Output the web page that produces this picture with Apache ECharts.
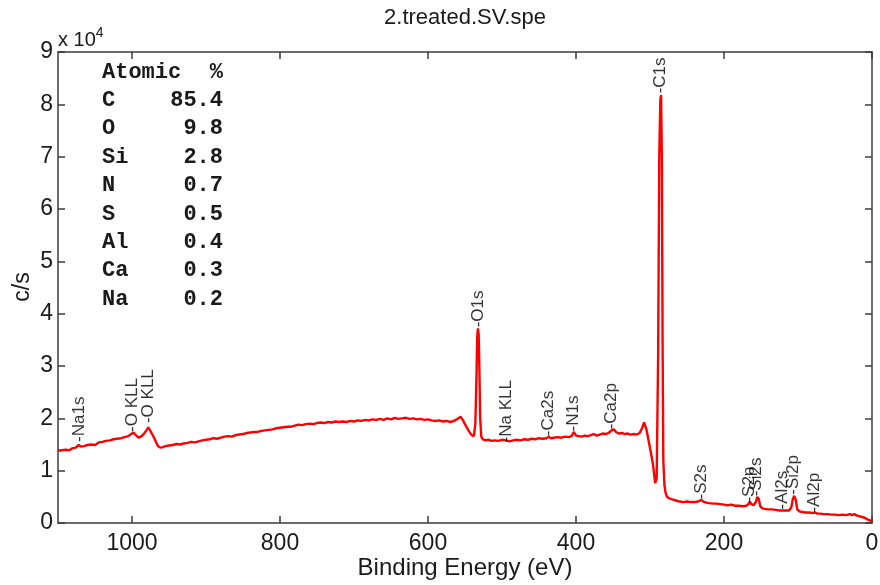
<!DOCTYPE html>
<html>
<head>
<meta charset="utf-8">
<script src="https://cdn.jsdelivr.net/npm/echarts@6/dist/echarts.min.js"></script>
<style>
  html, body { margin: 0; padding: 0; background: #fff; }
  #chart { width: 880px; height: 585px; }
</style>
</head>
<body>
<div id="chart"></div>
<script>
// XPS survey spectrum: binding energy (eV) and intensity (c/s)
const bindingEnergy = [
  1100, 1095, 1090, 1085, 1080, 1076, 1072, 1069, 1065, 1060, 1055, 1050, 1045, 1040, 1035, 1030,
  1025, 1020, 1015, 1010, 1005, 1001, 998, 995, 991, 987, 983, 980, 978, 976, 972, 968,
  965, 962, 958, 955, 950, 945, 940, 935, 930, 925, 920, 915, 910, 905, 900, 895,
  890, 885, 880, 875, 870, 865, 860, 855, 850, 845, 840, 835, 830, 825, 820, 815,
  810, 805, 800, 795, 790, 785, 780, 775, 770, 765, 760, 755, 750, 745, 740, 735,
  730, 725, 720, 715, 710, 705, 700, 695, 690, 685, 680, 675, 670, 665, 660, 655,
  650, 645, 640, 635, 630, 625, 620, 615, 610, 605, 600, 595, 590, 585, 580, 575,
  570, 565, 560, 556, 553, 549, 545, 541, 538, 536, 534.5, 533.5, 532.5, 531.5, 530.5, 529.5,
  528, 526, 522, 518, 514, 510, 505, 500, 495, 490, 485, 480, 475, 470, 465, 460,
  455, 450, 445, 440, 437, 434, 430, 425, 420, 415, 410, 406, 403, 400, 396, 392,
  388, 384, 380, 376, 372, 368, 364, 360, 356, 352, 349, 346, 342, 338, 334, 330,
  326, 322, 318, 314, 311, 308, 305, 302, 299, 296, 293, 291, 289, 287.5, 286, 285,
  284, 283, 282, 280.5, 279, 277, 274, 270, 265, 260, 255, 250, 245, 240, 235, 231,
  228, 224, 220, 215, 210, 205, 200, 195, 190, 185, 180, 175, 170, 167, 165, 163,
  160, 157, 155, 153, 151, 148, 145, 140, 135, 130, 125, 121, 119, 116, 112, 109,
  107, 105, 103, 101, 98, 94, 90, 85, 80, 77, 74, 70, 65, 60, 55, 50,
  45, 40, 35, 30, 27, 24, 20, 15, 10, 6, 3, 0
];
const countsPerSecond = [
  13800, 13900, 14000, 13900, 14300, 14400, 14900, 14600, 14700, 14900, 15000, 14900, 15400, 15500, 15700, 15800,
  16000, 16100, 16200, 16400, 16600, 17000, 17300, 16800, 16300, 16600, 17200, 17800, 18300, 18000, 16800, 15600,
  14700, 14400, 14500, 14700, 14800, 14900, 15100, 15000, 15200, 15300, 15500, 15400, 15600, 15800, 15900, 16000,
  16200, 16100, 16300, 16500, 16600, 16500, 16800, 16900, 17000, 17200, 17300, 17400, 17400, 17600, 17700, 17800,
  17900, 18100, 18200, 18300, 18400, 18400, 18600, 18800, 18700, 18900, 19000, 18900, 19100, 19200, 19100, 19300,
  19200, 19400, 19300, 19400, 19300, 19500, 19400, 19600, 19500, 19700, 19600, 19800, 19700, 19900, 19700, 20000,
  19800, 20100, 19900, 20000, 20100, 19900, 20000, 19800, 19900, 19700, 19800, 19600, 19500, 19600, 19400, 19500,
  19300, 19500, 19900, 20300, 19700, 18600, 17600, 16800, 16600, 19000, 28000, 35500, 37200, 36000, 29000, 20000,
  16500, 16000, 15800, 15900, 15700, 15800, 15700, 15900, 15800, 15600, 15800, 15900, 15800, 16000, 15900, 16100,
  16000, 16200, 16100, 16200, 16500, 16200, 16300, 16400, 16300, 16500, 16400, 16600, 17400, 16700, 16600, 16500,
  16700, 16600, 16800, 17000, 16700, 16900, 17100, 17000, 17200, 17700, 17900, 17400, 17100, 17200, 17000, 17100,
  16900, 17000, 16900, 17200, 18000, 19200, 18000, 15800, 13600, 11200, 7600, 8500, 32000, 70000, 81000, 81800,
  70000, 35000, 12000, 7200, 5800, 5000, 4700, 4500, 4300, 4100, 4000, 4100, 4000, 4000, 4100, 4400,
  4100, 3900, 3800, 3700, 3700, 3600, 3500, 3400, 3500, 3300, 3300, 3200, 3300, 3600, 4100, 3600,
  3400, 4000, 5000, 4600, 3200, 2800, 2700, 2600, 2600, 2500, 2400, 2400, 2600, 2400, 2400, 3000,
  4600, 5200, 4400, 2600, 2200, 2100, 2000, 2000, 1900, 2000, 1800, 1800, 1700, 1700, 1600, 1600,
  1500, 1600, 1500, 1700, 1500, 1700, 1400, 1200, 1000, 700, 500, 300
];

// Peak identifications and the level where each label starts
const peakNames = ['Na1s', 'O KLL', 'O KLL', 'O1s', 'Na KLL', 'Ca2s', 'N1s', 'Ca2p', 'C1s',
                   'S2s', 'S2p', 'Si2s', 'Al2s', 'Si2p', 'Al2p'];
const peakEnergies = [1071, 999, 977, 531, 493, 437, 403, 351, 285, 230, 165, 155, 120, 105, 77];
const peakLabelLevels = [15400, 17300, 19000, 37300, 15300, 16500, 17400, 17800, 82000,
                         4400, 3800, 5000, 2500, 5300, 1900];

// Atomic concentration table
const elements = ['C', 'O', 'Si', 'N', 'S', 'Al', 'Ca', 'Na'];
const atomicPercent = ['85.4', '9.8', '2.8', '0.7', '0.5', '0.4', '0.3', '0.2'];

// Axis ticks
const energyTicks = [0, 200, 400, 600, 800, 1000];
const countTicks = [0, 1, 2, 3, 4, 5, 6, 7, 8, 9];

const spectrum = bindingEnergy.map((e, i) => [e, countsPerSecond[i]]);
const peaks = peakNames.map((n, i) => ({ name: n, value: [peakEnergies[i], peakLabelLevels[i]] }));

const frameColor = '#3c3c3c';
const textColor = '#1a1a1a';
const sansFont = 'Liberation Sans, Arial, Helvetica, sans-serif';
const monoFont = 'Courier New, Liberation Mono, monospace';
const tableFont = 'bold 22px ' + monoFont;

const chart = echarts.init(document.getElementById('chart'), null, { renderer: 'canvas' });

const tableGraphics = [];
const tableLeft = 102, tableRight = 223, tableTop = 72, rowStep = 28.4;
tableGraphics.push({ type: 'text', x: tableLeft, y: tableTop,
  style: { text: 'Atomic', font: tableFont, fill: textColor, align: 'left', verticalAlign: 'middle' } });
tableGraphics.push({ type: 'text', x: tableRight, y: tableTop,
  style: { text: '%', font: tableFont, fill: textColor, align: 'right', verticalAlign: 'middle' } });
elements.forEach((el, i) => {
  const y = tableTop + rowStep * (i + 1);
  tableGraphics.push({ type: 'text', x: tableLeft, y: y,
    style: { text: el, font: tableFont, fill: textColor, align: 'left', verticalAlign: 'middle' } });
  tableGraphics.push({ type: 'text', x: tableRight, y: y,
    style: { text: atomicPercent[i], font: tableFont, fill: textColor, align: 'right', verticalAlign: 'middle' } });
});

const option = {
  animation: false,
  backgroundColor: '#ffffff',
  grid: { left: 58, right: 8, top: 52, bottom: 62, containLabel: false, outerBoundsMode: 'none' },
  xAxis: [
    {
      type: 'value', inverse: true, min: 0, max: 1100, interval: 200, position: 'bottom',
      axisLine: { show: true, onZero: false, lineStyle: { color: frameColor, width: 1.5 } },
      axisTick: { show: true, inside: true, length: 7, lineStyle: { color: frameColor, width: 1.5 },
        customValues: energyTicks },
      axisLabel: { fontSize: 23, fontFamily: sansFont, color: textColor, margin: 9,
        customValues: energyTicks, formatter: v => String(v) },
      splitLine: { show: false }
    },
    {
      type: 'value', inverse: true, min: 0, max: 1100, interval: 200, position: 'top',
      axisLine: { show: true, onZero: false, lineStyle: { color: frameColor, width: 1.5 } },
      axisTick: { show: true, inside: true, length: 7, lineStyle: { color: frameColor, width: 1.5 },
        customValues: energyTicks },
      axisLabel: { show: false },
      splitLine: { show: false }
    }
  ],
  yAxis: [
    {
      type: 'value', min: 0, max: 90000, interval: 10000, position: 'left',
      axisLine: { show: true, onZero: false, lineStyle: { color: frameColor, width: 1.5 } },
      axisTick: { show: true, inside: true, length: 7, lineStyle: { color: frameColor, width: 1.5 } },
      axisLabel: { fontSize: 23, fontFamily: sansFont, color: textColor, margin: 5,
        formatter: v => String(countTicks[Math.round(v / 10000)]) },
      splitLine: { show: false }
    },
    {
      type: 'value', min: 0, max: 90000, interval: 10000, position: 'right',
      axisLine: { show: true, onZero: false, lineStyle: { color: frameColor, width: 1.5 } },
      axisTick: { show: true, inside: true, length: 7, lineStyle: { color: frameColor, width: 1.5 } },
      axisLabel: { show: false },
      splitLine: { show: false }
    }
  ],
  series: [
    {
      name: 'spectrum', type: 'line', data: spectrum, xAxisIndex: 0, yAxisIndex: 0,
      showSymbol: false, symbol: 'none', smooth: false,
      lineStyle: { color: '#ff0000', width: 2.4 },
      z: 3
    },
    {
      name: 'peaks', type: 'scatter', data: peaks, xAxisIndex: 0, yAxisIndex: 0,
      symbolSize: 1, itemStyle: { color: 'rgba(0,0,0,0)' },
      label: {
        show: true, position: [0, 0], rotate: 90, align: 'left', verticalAlign: 'middle',
        formatter: p => '-' + p.name,
        fontSize: 17, fontFamily: sansFont, color: '#000'
      },
      z: 4
    }
  ],
  graphic: [
    { type: 'text', x: 465, y: 18,
      style: { text: '2.treated.SV.spe', font: '22px ' + sansFont, fill: textColor,
        align: 'center', verticalAlign: 'middle' } },
    { type: 'text', x: 465, y: 568,
      style: { text: 'Binding Energy (eV)', font: '24px ' + sansFont, fill: textColor,
        align: 'center', verticalAlign: 'middle' } },
    { type: 'text', x: 23, y: 287, rotation: Math.PI / 2,
      style: { text: 'c/s', font: '23px ' + sansFont, fill: textColor,
        align: 'center', verticalAlign: 'middle' } },
    { type: 'text', x: 58, y: 40,
      style: { text: 'x 10{sup|4}', font: '20px ' + sansFont, fill: textColor,
        align: 'left', verticalAlign: 'middle',
        rich: { sup: { fontSize: 14, fontFamily: sansFont, fill: textColor, verticalAlign: 'bottom', padding: [0, 0, 14, 0] } } } }
  ].concat(tableGraphics)
};

chart.setOption(option);
</script>
</body>
</html>
